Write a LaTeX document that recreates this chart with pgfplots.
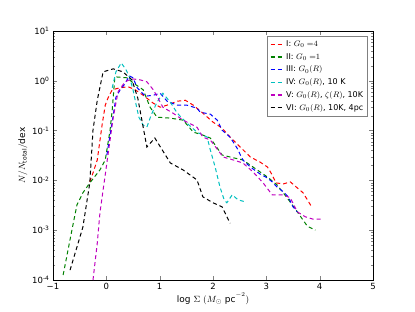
\documentclass[border=0pt]{standalone}
\usepackage{pgfplots}
\pgfplotsset{compat=1.18}
\usepackage{fontspec}
\setmainfont{DejaVu Sans}
\definecolor{mred}{rgb}{1,0,0}
\definecolor{mgreen}{rgb}{0,0.5,0}
\definecolor{mblue}{rgb}{0,0,1}
\definecolor{mcyan}{rgb}{0,0.75,0.75}
\definecolor{mmag}{rgb}{0.75,0,0.75}
\begin{document}
\begin{tikzpicture}
\path[use as bounding box] (-53pt,-32pt) rectangle (362pt,280pt);
\begin{axis}[
  at={(0,0)}, anchor=south west,
  scale only axis, width=320pt, height=249pt,
  xmin=-1, xmax=5, ymin=1e-4, ymax=10,
  ymode=log,
  xtick={-1,0,1,2,3,4,5},
  xticklabels={−1,0,1,2,3,4,5},
  ytick={1e-4,1e-3,1e-2,1e-1,1,10},
  yticklabels={10\textsuperscript{-4},10\textsuperscript{-3},10\textsuperscript{-2},10\textsuperscript{-1},10\textsuperscript{0},10\textsuperscript{1}},
  tick label style={font=\fontsize{8.5}{9}\selectfont},
  tick align=inside, xtick pos=both, ytick pos=both,
  major tick length=4pt, minor tick length=2pt,
  axis line style={line width=0.8pt},
  xlabel={$\log\,\Sigma\ (M_\odot\ \mathrm{pc}^{-2})$},
  ylabel={$N/N_{\mathrm{total}}/\mathrm{dex}$},
  label style={font=\fontsize{9}{10}\selectfont},
  xlabel style={yshift=4pt},
  ylabel style={yshift=-2pt},
  legend style={font=\fontsize{8}{9}\selectfont, draw=gray, line width=0.8pt, at={(0.985,0.98)}, anchor=north east, row sep=1.2pt, inner sep=2.5pt, cells={anchor=west}},
  legend image code/.code={\draw[#1, line width=1.4pt] (0pt,0pt) -- (13pt,0pt);},
  every axis plot/.append style={line width=1pt, dash pattern=on 4pt off 3pt},
  clip=false,
]
\addplot[draw=mred] coordinates {
(-0.31,0.00933) (-0.25,0.0141) (-0.17,0.0257) (-0.08,0.129) (-0.02,0.324) (0.03,0.447)
(0.11,0.661) (0.26,0.724) (0.41,0.759) (0.54,0.661) (0.69,0.513) (0.88,0.355)
(1.01,0.295) (1.14,0.324) (1.33,0.389) (1.48,0.407) (1.63,0.324) (1.81,0.224)
(2.00,0.148) (2.17,0.112) (2.32,0.0741) (2.51,0.0468) (2.70,0.0295) (2.88,0.0234)
(3.02,0.0186) (3.11,0.0129) (3.18,0.00891) (3.32,0.00851) (3.45,0.00933) (3.58,0.00708)
(3.69,0.00562) (3.77,0.00407) (3.86,0.00282)};
\addlegendentry{I: $G_0\;{=}4$}
\addplot[draw=mgreen] coordinates {
(-0.81,0.000126) (-0.62,0.00138) (-0.55,0.00324) (-0.44,0.00562) (-0.31,0.00891)
(-0.12,0.0162) (-0.02,0.0257) (0.07,0.102) (0.11,0.257) (0.16,1.202) (0.39,1.148)
(0.50,0.912) (0.69,0.661) (0.82,0.295) (0.95,0.186) (1.20,0.178) (1.44,0.162)
(1.63,0.0933) (1.81,0.0813) (1.95,0.0708) (2.17,0.0324) (2.32,0.0295) (2.56,0.0257)
(2.83,0.0162) (3.02,0.0117) (3.20,0.00813) (3.39,0.00447) (3.58,0.00234) (3.77,0.00120)
(3.92,0.00100)};
\addlegendentry{II: $G_0\;{=}1$}
\addplot[draw=mblue] coordinates {
(0.01,0.0324) (0.07,0.0813) (0.13,0.204) (0.18,0.468) (0.26,0.661) (0.35,0.871)
(0.43,1.259) (0.50,1.148) (0.58,0.724) (0.73,0.490) (0.88,0.513) (1.01,0.562)
(1.14,0.389) (1.33,0.324) (1.51,0.324) (1.70,0.282) (1.76,0.234) (1.95,0.214)
(2.08,0.162) (2.17,0.102) (2.32,0.0741) (2.45,0.0447) (2.56,0.0257) (2.70,0.0186)
(2.88,0.0135) (3.02,0.0112) (3.11,0.00933) (3.20,0.00741) (3.32,0.00589) (3.41,0.00468)
(3.50,0.00295) (3.58,0.00234)};
\addlegendentry{III: $G_0(R)$}
\addplot[draw=mcyan] coordinates {
(0.11,0.724) (0.18,1.514) (0.28,2.291) (0.37,1.660) (0.44,1.148) (0.50,0.661)
(0.56,0.324) (0.61,0.186) (0.69,0.129) (0.76,0.117) (0.84,0.204) (0.95,0.372)
(1.06,0.562) (1.20,0.372) (1.33,0.224) (1.51,0.141) (1.70,0.0933) (1.89,0.0741)
(1.95,0.0407) (2.04,0.0186) (2.13,0.00741) (2.21,0.00407) (2.26,0.00355) (2.36,0.00513)
(2.47,0.00407) (2.60,0.00372)};
\addlegendentry{IV: $G_0(R)$, 10 K}
\addplot[draw=mmag] coordinates {
(-0.25,0.0001) (-0.17,0.00055) (-0.12,0.00224) (-0.06,0.00646) (0.01,0.0224)
(0.07,0.0646) (0.13,0.186) (0.22,0.603) (0.35,0.955) (0.48,1.096) (0.63,1.047)
(0.76,0.955) (0.88,0.661) (0.97,0.447) (1.06,0.295) (1.25,0.224) (1.44,0.162)
(1.70,0.117) (1.81,0.0741) (1.95,0.0646) (2.19,0.0295) (2.38,0.0257) (2.56,0.0224)
(2.75,0.0148) (2.94,0.00891) (3.11,0.00513) (3.32,0.00513) (3.45,0.00447) (3.58,0.00234)
(3.73,0.00186) (3.88,0.00166) (4.05,0.00166)};
\addlegendentry{V: $G_0(R)$, $\zeta(R)$, 10K}
\addplot[draw=black] coordinates {
(-0.68,0.000158) (-0.44,0.00115) (-0.31,0.00891) (-0.25,0.102) (-0.17,0.407)
(-0.06,1.514) (0.13,1.738) (0.31,1.514) (0.48,1.047) (0.59,0.447) (0.76,0.0468)
(0.91,0.0708) (1.20,0.0224) (1.44,0.0162) (1.70,0.0102) (1.81,0.00468) (2.00,0.00355)
(2.17,0.00295) (2.32,0.00138)};
\addlegendentry{VI: $G_0(R)$, 10K, 4pc}
\end{axis}
\end{tikzpicture}
\end{document}
